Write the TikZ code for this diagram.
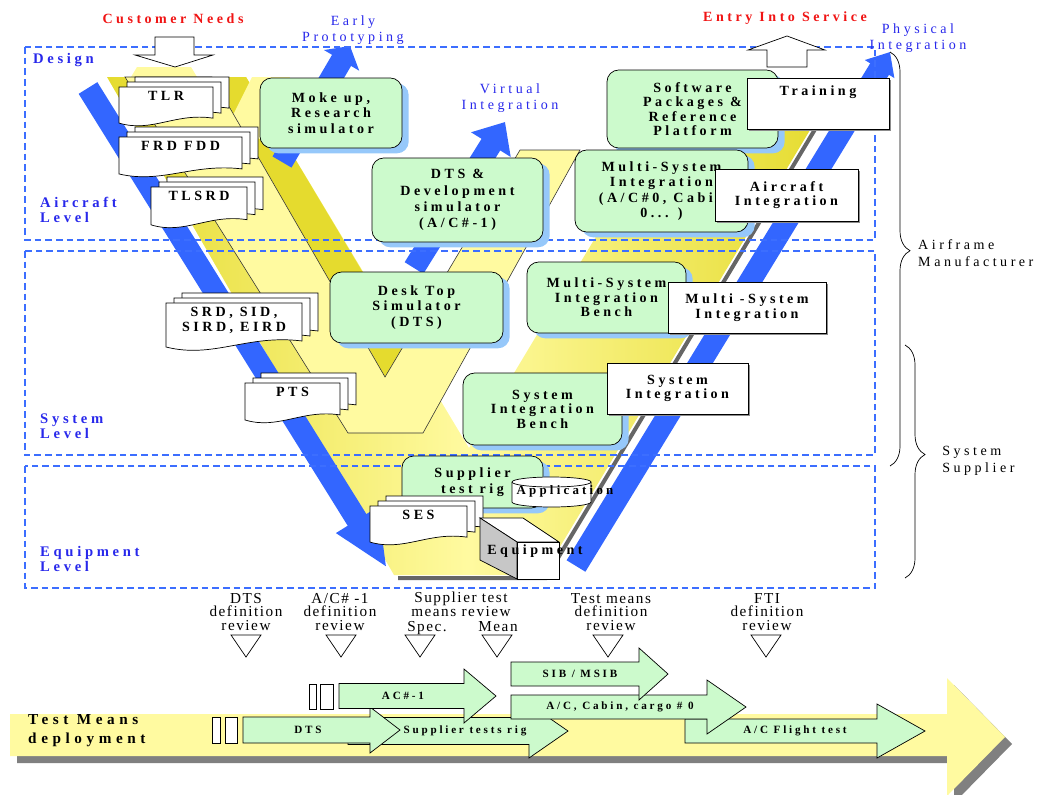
\documentclass[tikz,border=0pt]{standalone}
\usepackage{fontspec}
\setmainfont{Liberation Serif}
\newfontfamily\spacedfont[LetterSpace=25]{Liberation Serif}
\newfontfamily\widefont[LetterSpace=30]{Liberation Serif}
\newfontfamily\msfont[LetterSpace=10]{Liberation Serif}
\usepackage{tikz}
\usetikzlibrary{positioning, arrows.meta, shadows, decorations.pathreplacing}

\definecolor{ylight}{RGB}{255,250,160}
\definecolor{ydark}{RGB}{229,219,46}
\definecolor{vblue}{RGB}{51,102,255}
\definecolor{dashblue}{RGB}{60,110,255}
\definecolor{lblue}{RGB}{40,40,235}
\definecolor{simgreen}{RGB}{204,250,204}
\definecolor{shblue}{RGB}{150,200,250}
\definecolor{cred}{RGB}{240,20,20}

\tikzset{
  sim/.style={draw, line width=0.6pt, fill=simgreen, rounded corners=3.5mm, align=center,
    font=\spacedfont\bfseries\fontsize{12}{13.2}\selectfont,
    general shadow={fill=shblue, shadow xshift=2mm, shadow yshift=-1.6mm}},
  wbox/.style={draw, line width=0.7pt, fill=white, align=center,
    font=\spacedfont\bfseries\fontsize{12}{12.5}\selectfont,
    general shadow={fill=black!45, shadow xshift=0.6mm, shadow yshift=-0.6mm}},
  docsheet/.style={draw, line width=0.6pt, fill=white},
  doctext/.style={align=center, inner sep=1pt, font=\spacedfont\bfseries\fontsize{12}{13}\selectfont},
  vband/.style={vblue, line width=6.6mm},
  region/.style={draw=dashblue, line width=0.45mm, dash pattern=on 2mm off 1.2mm},
  outarrow/.style={draw, line width=0.6pt, fill=white},
  redlbl/.style={cred, font=\spacedfont\bfseries\fontsize{12}{14}\selectfont},
  flowlbl/.style={lblue, align=center, font=\spacedfont\fontsize{12}{13.6}\selectfont},
  levellbl/.style={lblue, align=left, inner sep=0pt, font=\spacedfont\bfseries\fontsize{12.5}{12.8}\selectfont},
  sidelbl/.style={align=left, inner sep=0pt, font=\spacedfont\fontsize{12}{14.5}\selectfont},
  tllbl/.style={align=left, inner sep=0pt, font=\widefont\bfseries\fontsize{13}{16}\selectfont},
  mstext/.style={align=center, inner sep=0pt, font=\msfont\fontsize{13}{11.8}\selectfont},
  mstri/.style={draw, line width=0.6pt, fill=white},
  gshape/.style={draw, line width=0.6pt, fill=simgreen},
  gbar/.style={draw, line width=0.6pt, fill=white},
  gtext/.style={inner sep=0pt, font=\spacedfont\bfseries\fontsize{9.5}{11}\selectfont},
  vbrace/.style={decorate, decoration={brace, amplitude=6mm, aspect=#1}, line width=0.6pt},
}

% document stack: name, left, top, width, height, text
\newcommand{\docstack}[6]{%
  \foreach \k in {2,1,0}
    \filldraw[docsheet] ({#2+8*\k},{#3-5*\k}) -- ({#2+8*\k+#4},{#3-5*\k})
      -- ({#2+8*\k+#4},{#3-5*\k+0.76*#5})
      .. controls ({#2+8*\k+0.6*#4},{#3-5*\k+0.62*#5}) and ({#2+8*\k+0.35*#4},{#3-5*\k+1.12*#5})
      .. ({#2+8*\k},{#3-5*\k+0.88*#5}) -- cycle;
  \node[doctext, anchor=north] (#1) at ({#2+#4/2},{#3+3}) {#6};
}

% green block arrow: name, tail, head base, tip, centre y, shaft half, head half, text x, text
\newcommand{\garrow}[9]{%
  \filldraw[gshape] (#2,#5-#6) -- (#3,#5-#6) -- (#3,#5-#7) -- (#4,#5) -- (#3,#5+#7) -- (#3,#5+#6) -- (#2,#5+#6) -- cycle;
  \node[gtext] (#1) at (#8,#5) {#9};
}

\begin{document}
\begin{tikzpicture}[x=0.3mm, y=-0.3mm]
	\useasboundingbox (0,0) rectangle (1040,794);

	% Yellow V shapes
	\draw[line width=1.2mm, black!60] (398,578) -- (546,578) -- (832,101);
	\shade[left color=ydark, right color=ydark, middle color=ylight]
		(107,77) -- (394,575) -- (543,575) -- (828,100) -- (678,100) -- (469,448) -- (246,77) -- cycle;
	\fill[ydark] (212,77) -- (385,377) -- (405,343) -- (246,77) -- cycle;
	\fill[ylight] (228,125) -- (252,77) -- (290,77) -- (262,140) -- cycle;
	\fill[ylight] (137,67) -- (191,67) -- (197,77) -- (131,77) -- cycle;
	\filldraw[fill=ylight, draw=black!80, line width=0.5pt]
		(125,77) -- (348,433) -- (423,433) -- (580,150) -- (520,150) -- (385,377) -- (212,77) -- cycle;

	% Blue process arrows
	\draw[vband, -{Triangle[length=17mm, width=13.5mm]}] (88,88) -- (387,568);
	\draw[vband, -{Triangle[length=6mm, width=10mm]}] (576,566) -- (890,52);
	\draw[vband, -{Triangle[length=5mm, width=12mm]}] (282,162) -- (350,46);
	\draw[vband, -{Triangle[length=8mm, width=13.5mm]}] (414,268) -- (505,122);

	% Level regions
	\draw[region] (25,47) rectangle (875,240);
	\draw[region] (25,251) rectangle (875,455);
	\draw[region] (25,466) rectangle (875,588);

	% In and out arrows
	\filldraw[outarrow] (155,37) -- (194,37) -- (194,55) -- (213,55) -- (175,67) -- (135,55) -- (155,55) -- cycle;
	\filldraw[outarrow] (767,67) -- (767,50) -- (748,50) -- (787,36) -- (825,50) -- (807,50) -- (807,67) -- cycle;

	% Documents
	\docstack{tlr}{119}{87}{94}{41}{TLR}
	\docstack{frd}{119}{137}{123}{42}{FRD FDD}
	\docstack{tlsrd}{151}{187}{96}{43}{TLSRD}
	\docstack{srd}{166}{303}{136}{50}{SRD, SID,\\SIRD, EIRD}
	\docstack{pts}{245}{383}{95}{42}{PTS}

	% Simulators and benches
	\node[sim, minimum width=42.6mm, minimum height=21mm] (mokeup) at (331,113) {Moke up,\\Research\\simulator};
	\node[sim, minimum width=51.3mm, minimum height=25.2mm, font=\spacedfont\bfseries\fontsize{12}{13.8}\selectfont] (devsim) at (457.5,200) {DTS \&\\Development\\simulator\\(A/C\#-1)};
	\node[sim, minimum width=51.9mm, minimum height=21.3mm] (desktop) at (416.5,307.5) {Desk Top\\Simulator\\(DTS)};
	\node[sim, minimum width=51.3mm, minimum height=23.4mm, font=\spacedfont\bfseries\fontsize{12}{12.3}\selectfont] (softpack) at (692.5,109) {Software\\Packages \&\\Reference\\Platform};
	\node[sim, minimum width=51.9mm, minimum height=24.6mm] (msi) at (661.5,191) {Multi-System\\Integration\\(A/C\#0, Cabin\\0... )};
	\node[sim, minimum width=47.7mm, minimum height=21.3mm, font=\spacedfont\bfseries\fontsize{12}{12.3}\selectfont] (msib) at (606.5,297.5) {Multi-System\\Integration\\Bench};
	\node[sim, minimum width=47.7mm, minimum height=21.6mm, font=\spacedfont\bfseries\fontsize{12}{12.3}\selectfont] (sib) at (542.5,409) {System\\Integration\\Bench};
	\node[sim, minimum width=42.3mm, minimum height=15.6mm] (suprig) at (472.5,482) {Supplier\\test rig};

	% Integration steps
	\node[wbox, minimum width=42.6mm, minimum height=15.3mm, text depth=7.5mm] (training) at (818,103.5) {Training};
	\node[wbox, minimum width=42.9mm, minimum height=15.6mm] (aci) at (786.5,195) {Aircraft\\Integration};
	\node[wbox, minimum width=47.4mm, minimum height=15.3mm] (msiw) at (747,307.5) {Multi -System\\Integration};
	\node[wbox, minimum width=42.3mm, minimum height=15.3mm] (siw) at (677.5,388.5) {System\\Integration};

	% Equipment level
	\docstack{ses}{370}{506}{97}{41}{SES}
	\filldraw[line width=0.6pt, fill=white] (512,482) -- (512,502) arc[start angle=180, end angle=0, x radius=39.5, y radius=5] -- (591,482);
	\filldraw[line width=0.6pt, fill=white] (551.5,482) ellipse [x radius=39.5, y radius=5];
	\node[doctext, font=\spacedfont\bfseries\fontsize{11}{12}\selectfont] (app) at (565,491) {Application};
	\filldraw[line width=0.6pt, fill=white] (480,518) -- (523,518) -- (559,542) -- (517,542) -- cycle;
	\filldraw[line width=0.6pt, fill=black!22] (480,518) -- (517,542) -- (517,579) -- (480,560) -- cycle;
	\filldraw[line width=0.6pt, fill=white] (517,542) rectangle (559,579);
	\node[doctext] (equip) at (535,551) {Equipment};

	% Braces
	\draw[vbrace=0.48] (890,52) -- (890,466);
	\draw[vbrace=0.47] (905,345) -- (905,578);

	% Labels
	\node[redlbl] (custneeds) at (173,19) {Customer Needs};
	\node[redlbl] (eis) at (785,18) {Entry Into Service};
	\node[flowlbl] (earlyproto) at (353,30) {Early\\Prototyping};
	\node[flowlbl] (virtint) at (510,98) {Virtual\\Integration};
	\node[flowlbl] (physint) at (918,38) {Physical\\Integration};
	\node[levellbl, anchor=west] (design) at (33,60) {Design};
	\node[levellbl, anchor=west] (aclevel) at (40,210) {Aircraft\\Level};
	\node[levellbl, anchor=west] (syslevel) at (40,426) {System\\Level};
	\node[levellbl, anchor=west] (eqlevel) at (40,559) {Equipment\\Level};
	\node[sidelbl, anchor=west] (airframe) at (918,253) {Airframe\\Manufacturer};
	\node[sidelbl, anchor=west] (syssup) at (942,461) {System\\Supplier};

	% Test means deployment
	\fill[black!50, shift={(7,7)}] (10,714) -- (947,714) -- (947,678) -- (1005,737) -- (947,796) -- (947,756) -- (10,756) -- cycle;
	\fill[ylight] (10,714) -- (947,714) -- (947,678) -- (1005,737) -- (947,796) -- (947,756) -- (10,756) -- cycle;
	\node[tllbl, anchor=west] (tmdeploy) at (28,731) {Test Means\\deployment};

	\draw[gbar] (212,717) rectangle (220,743);
	\draw[gbar] (225,717) rectangle (237,743);
	\draw[gbar] (309,684) rectangle (316,709);
	\draw[gbar] (320,684) rectangle (333,709);
	\garrow{suptests}{348}{529}{568}{731}{13.5}{27}{465}{Supplier tests rig}
	\garrow{dtsarr}{243}{370}{400}{730}{13}{23}{308}{DTS}
	\garrow{acarr}{339}{464}{496}{696}{12.5}{27}{403}{AC\#-1}
	\garrow{flightarr}{685}{877}{925}{731}{12}{27}{795}{A/C Flight test}
	\garrow{cabinarr}{511}{707}{746}{707}{12}{27}{620}{A/C, Cabin, cargo \# 0}
	\garrow{sibarr}{511}{639}{668}{674}{12}{26}{580}{SIB / MSIB}

	% Reviews
	\foreach \mx in {246,341,420,497,608,766}
		\draw[mstri] (\mx-15,635) -- (\mx+15,635) -- (\mx,657) -- cycle;
	\node[mstext] (dtsrev) at (246,612) {DTS\\definition\\review};
	\node[mstext] (acrev) at (340,612) {A/C\# -1\\definition\\review};
	\node[mstext] (suprev) at (461,604) {Supplier test\\means review};
	\node[mstext] (specrev) at (427,628) {Spec.};
	\node[mstext] (meanrev) at (498,627) {Mean};
	\node[mstext] (tmrev) at (611,612) {Test means\\definition\\review};
	\node[mstext] (ftirev) at (767,612) {FTI\\definition\\review};
\end{tikzpicture}
\end{document}
